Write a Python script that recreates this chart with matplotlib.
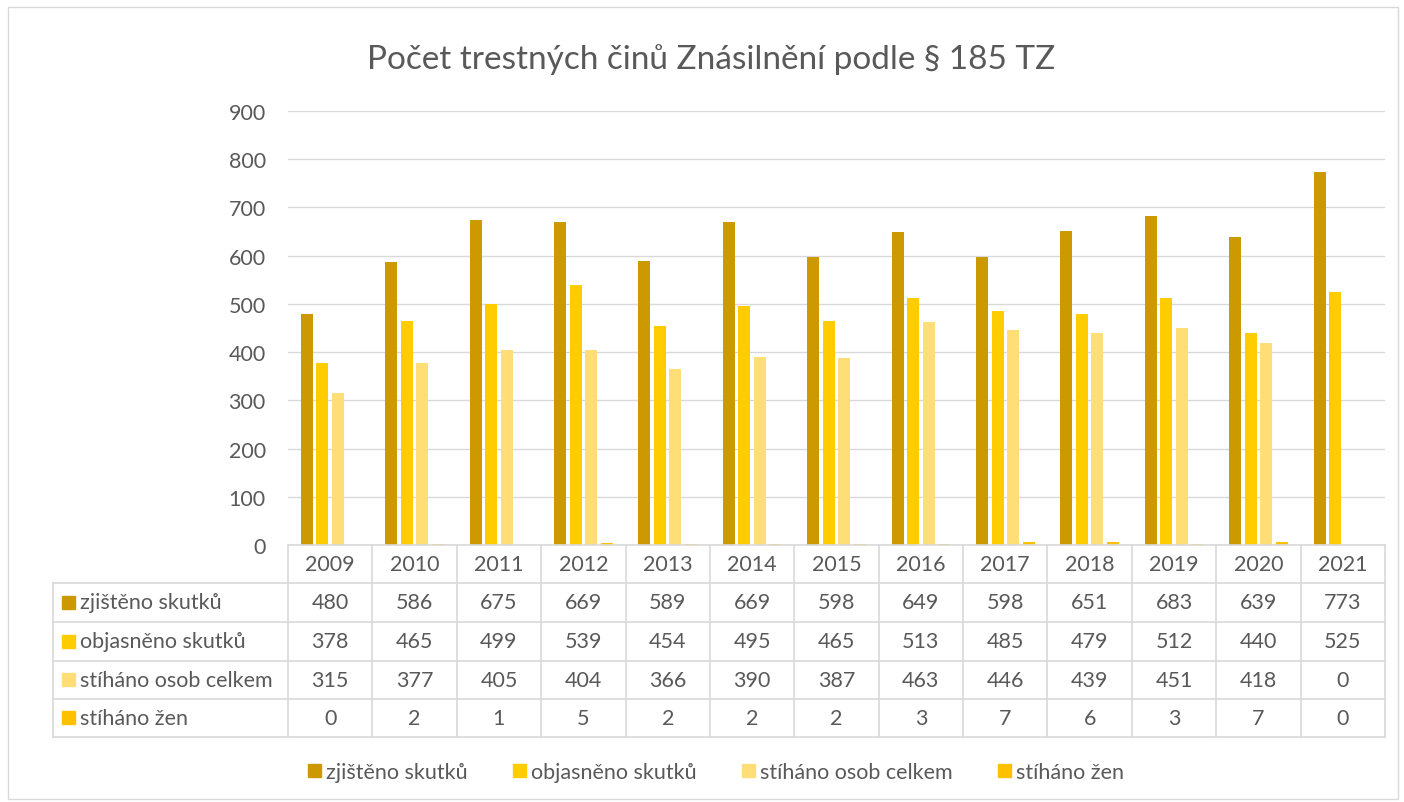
import matplotlib.pyplot as plt
import numpy as np
from matplotlib.lines import Line2D
from matplotlib.patches import Rectangle

plt.rcParams['font.family'] = ['Lato', 'DejaVu Sans']

W, H = 1404, 803

# data
years = ['2009', '2010', '2011', '2012', '2013', '2014', '2015',
         '2016', '2017', '2018', '2019', '2020', '2021']
zjisteno = [480, 586, 675, 669, 589, 669, 598, 649, 598, 651, 683, 639, 773]
objasneno = [378, 465, 499, 539, 454, 495, 465, 513, 485, 479, 512, 440, 525]
stihano_celkem = [315, 377, 405, 404, 366, 390, 387, 463, 446, 439, 451, 418, 0]
stihano_zen = [0, 2, 1, 5, 2, 2, 2, 3, 7, 6, 3, 7, 0]

series_names = ['zjištěno skutků', 'objasněno skutků',
                'stíháno osob celkem', 'stíháno žen']
series = [zjisteno, objasneno, stihano_celkem, stihano_zen]
colors = ['#CC9900', '#FFCC00', '#FFDD77', '#FFC000']

TXT = '#595959'
GRID = '#D9D9D9'
FS = 15.5


def fx(x):
    return x / W


def fy(y):
    return 1 - y / H


fig = plt.figure(figsize=(W / 100, H / 100), dpi=100)

# plot area in pixels
PL, PR, PT, PB = 288, 1385, 112, 546
ax = fig.add_axes([fx(PL), fy(PB), fx(PR) - fx(PL), fy(PT) - fy(PB)])

n = len(years)
x = np.arange(n)
step = 15.5 / 84.4
bw = 12 / 84.4
for i, (vals, c) in enumerate(zip(series, colors)):
    ax.bar(x + (i - 1.5) * step, vals, width=bw, color=c, zorder=3)

ax.set_xlim(-0.5, n - 0.5)
ax.set_ylim(0, 900)
ax.set_yticks(range(0, 901, 100))
ax.yaxis.grid(True, color=GRID, lw=1, zorder=0)
ax.set_xticks([])
ax.tick_params(axis='y', length=0, labelsize=FS, labelcolor=TXT, pad=16)
for s in ax.spines.values():
    s.set_visible(False)

# title
fig.text(fx(711), fy(60), 'Počet trestných činů Znásilnění podle § 185 TZ',
         ha='center', va='center', fontsize=24, color=TXT)

# data table below the axes
TL = 53
row_y = [546, 584, 623, 662, 700, 738]
cw = (PR - PL) / n


def hline(y, x0, x1):
    fig.add_artist(Line2D([fx(x0), fx(x1)], [fy(y), fy(y)],
                          color=GRID, lw=1.2, transform=fig.transFigure))


def vline(xp, y0, y1):
    fig.add_artist(Line2D([fx(xp), fx(xp)], [fy(y0), fy(y1)],
                          color=GRID, lw=1.2, transform=fig.transFigure))


hline(row_y[0], PL, PR)
for y in row_y[1:]:
    hline(y, TL, PR)
vline(TL, row_y[1], row_y[-1])
for j in range(n + 1):
    vline(PL + j * cw, row_y[0], row_y[-1])

for j, yr in enumerate(years):
    cx = PL + (j + 0.5) * cw
    fig.text(fx(cx), fy((row_y[0] + row_y[1]) / 2), yr,
             ha='center', va='center', fontsize=FS, color=TXT)
    for r, vals in enumerate(series):
        cy = (row_y[r + 1] + row_y[r + 2]) / 2
        fig.text(fx(cx), fy(cy), str(vals[j]),
                 ha='center', va='center', fontsize=FS, color=TXT)

for r, (name, c) in enumerate(zip(series_names, colors)):
    cy = (row_y[r + 1] + row_y[r + 2]) / 2
    fig.add_artist(Rectangle((fx(62), fy(cy + 6)), fx(13), 13 / H,
                             color=c, transform=fig.transFigure))
    fig.text(fx(80), fy(cy), name, ha='left', va='center',
             fontsize=FS, color=TXT)

# legend
handles = [Rectangle((0, 0), 1, 1, color=c) for c in colors]
fig.legend(handles, series_names, loc='center', bbox_to_anchor=(fx(716), fy(773)),
           ncol=4, frameon=False, fontsize=FS, labelcolor=TXT,
           handlelength=0.6, handleheight=0.6, handletextpad=0.25,
           columnspacing=2.1)

# outer chart border
fig.add_artist(Rectangle((fx(8), fy(800)), fx(1390), 792 / H, fill=False,
                         edgecolor=GRID, lw=1, transform=fig.transFigure))

plt.savefig('out.png', dpi=100, facecolor='white')
